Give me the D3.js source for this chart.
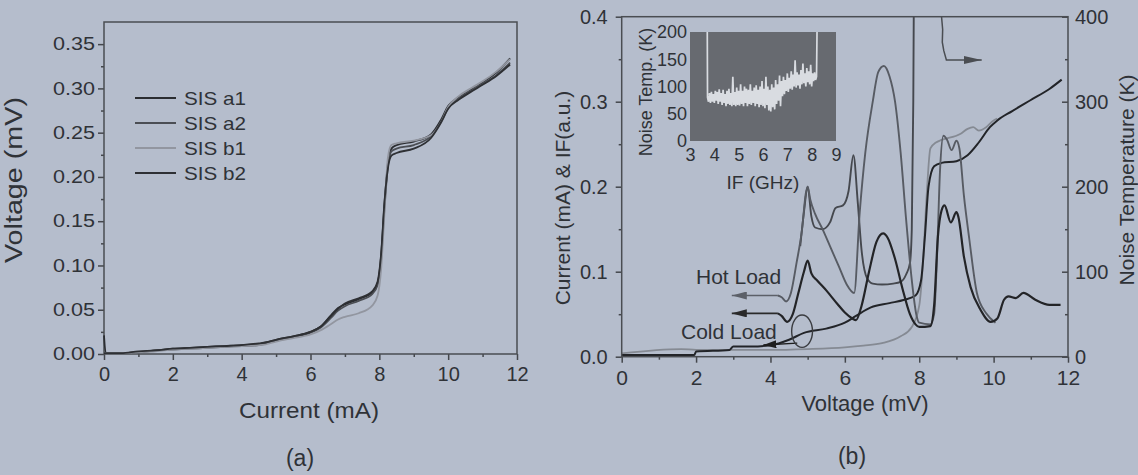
<!DOCTYPE html>
<html>
<head>
<meta charset="utf-8">
<script src="https://cdn.jsdelivr.net/npm/d3@7"></script>
<style>
  body { margin: 0; background: #b5bdcc; }
  svg { display: block; }
  text { font-family: "Liberation Sans", Arial, Helvetica, sans-serif; fill: #2f3237; }
</style>
</head>
<body>
<svg id="fig" width="1138" height="475"></svg>
<script>
// ---------- panel (a): I-V curves of four junctions ----------
var ivCurrent = [0, 0.05, 0.5, 1.0, 1.5, 2.0, 2.5, 3.0, 3.5, 4.0, 4.5, 4.7, 5.0, 5.5, 6.0, 6.3, 6.6, 6.8, 7.0, 7.4, 7.8, 7.95, 8.05, 8.15, 8.25, 8.35, 8.5, 9.0, 9.5, 9.8, 10.0, 10.3, 10.7, 11.0, 11.4, 11.8]
var sisA1 = [0.021, 0.001, 0.001, 0.002, 0.004, 0.006, 0.007, 0.008, 0.009, 0.010, 0.011, 0.013, 0.016, 0.020, 0.025, 0.031, 0.044, 0.052, 0.056, 0.062, 0.070, 0.080, 0.110, 0.170, 0.215, 0.232, 0.236, 0.240, 0.248, 0.265, 0.280, 0.290, 0.300, 0.307, 0.318, 0.334]
var sisA2 = [0.001, 0.001, 0.001, 0.002, 0.004, 0.005, 0.006, 0.007, 0.008, 0.009, 0.010, 0.012, 0.015, 0.019, 0.024, 0.030, 0.041, 0.049, 0.054, 0.060, 0.068, 0.078, 0.105, 0.165, 0.212, 0.229, 0.232, 0.236, 0.246, 0.263, 0.278, 0.288, 0.298, 0.305, 0.315, 0.329]
var sisB1 = [0.001, 0.001, 0.001, 0.002, 0.003, 0.005, 0.006, 0.007, 0.008, 0.009, 0.010, 0.011, 0.014, 0.018, 0.022, 0.027, 0.034, 0.039, 0.042, 0.046, 0.055, 0.066, 0.095, 0.160, 0.222, 0.236, 0.238, 0.241, 0.247, 0.262, 0.279, 0.291, 0.301, 0.308, 0.319, 0.333]
var sisB2 = [0.001, 0.001, 0.001, 0.003, 0.004, 0.006, 0.007, 0.008, 0.009, 0.010, 0.012, 0.013, 0.016, 0.020, 0.025, 0.031, 0.043, 0.051, 0.057, 0.063, 0.071, 0.082, 0.112, 0.172, 0.210, 0.224, 0.227, 0.232, 0.244, 0.262, 0.277, 0.287, 0.297, 0.304, 0.314, 0.327]
var legendNames = ['SIS a1', 'SIS a2', 'SIS b1', 'SIS b2']

var xTicksA = [0, 2, 4, 6, 8, 10, 12]
var xMinorA = [1, 3, 5, 7, 9, 11]
var yTicksA = [0, 0.05, 0.10, 0.15, 0.20, 0.25, 0.30, 0.35]
var yMinorA = [0.025, 0.075, 0.125, 0.175, 0.225, 0.275, 0.325]

// ---------- panel (b): pumped / unpumped I-V, IF power, noise temperature ----------
var pumpV = [0, 1.95, 2.0, 2.9, 3.0, 3.5, 4.0, 4.5, 4.9, 5.5, 6.0, 6.3, 6.7, 7.2, 7.6, 7.9, 8.05, 8.15, 8.25, 8.4, 8.6, 9.0, 9.3, 9.6, 9.9, 10.1, 10.5, 11.0, 11.5, 11.83]
var pumpI = [0.002, 0.002, 0.006, 0.008, 0.012, 0.012, 0.0135, 0.02, 0.028, 0.033, 0.040, 0.048, 0.058, 0.063, 0.067, 0.072, 0.09, 0.14, 0.2, 0.224, 0.228, 0.230, 0.237, 0.252, 0.270, 0.278, 0.289, 0.302, 0.315, 0.326]
var dryV = [0, 1.6, 2.0, 3.0, 4.0, 5.0, 6.0, 6.5, 7.0, 7.5, 7.8, 8.0, 8.1, 8.2, 8.3, 8.45, 8.6, 9.1, 9.3, 9.45, 9.6, 9.8, 10.0, 10.1]
var dryI = [0.004, 0.009, 0.008, 0.008, 0.008, 0.009, 0.011, 0.013, 0.016, 0.024, 0.035, 0.06, 0.11, 0.19, 0.245, 0.252, 0.255, 0.262, 0.268, 0.27, 0.266, 0.27, 0.278, 0.28]
var hotV = [4.2, 4.3, 4.42, 4.55, 4.7, 4.85, 4.95, 5.0, 5.07, 5.2, 5.4, 5.6, 5.85, 6.05, 6.25, 6.4, 6.55, 6.75, 6.9, 7.05, 7.2, 7.35, 7.5, 7.65, 7.8, 7.92, 8.0, 8.3, 8.4, 8.48, 8.56, 8.65, 8.75, 8.87, 9.0, 9.08, 9.2, 9.35, 9.55, 9.8, 10.05]
var hotP = [0.072, 0.070, 0.065, 0.075, 0.11, 0.15, 0.192, 0.200, 0.185, 0.168, 0.150, 0.130, 0.105, 0.085, 0.075, 0.17, 0.24, 0.30, 0.335, 0.342, 0.33, 0.30, 0.24, 0.16, 0.09, 0.05, 0.04, 0.038, 0.05, 0.12, 0.22, 0.26, 0.255, 0.243, 0.254, 0.245, 0.19, 0.137, 0.075, 0.051, 0.04]
var coldV = [4.2, 4.3, 4.45, 4.6, 4.75, 4.9, 5.0, 5.1, 5.25, 5.5, 5.8, 6.0, 6.2, 6.3, 6.45, 6.65, 6.85, 7.03, 7.15, 7.35, 7.55, 7.75, 7.9, 8.0, 8.3, 8.4, 8.5, 8.6, 8.68, 8.85, 9.0, 9.05, 9.2, 9.38, 9.65, 9.92, 10.1, 10.28, 10.4, 10.6, 10.8, 11.12, 11.5, 11.8]
var coldP = [0.051, 0.048, 0.041, 0.05, 0.075, 0.1, 0.113, 0.098, 0.09, 0.078, 0.062, 0.052, 0.045, 0.043, 0.06, 0.1, 0.135, 0.145, 0.14, 0.115, 0.08, 0.05, 0.038, 0.035, 0.036, 0.06, 0.14, 0.172, 0.178, 0.158, 0.17, 0.165, 0.118, 0.082, 0.055, 0.041, 0.045, 0.067, 0.071, 0.069, 0.075, 0.067, 0.061, 0.061]
var noiseV = [4.8, 4.9, 5.0, 5.1, 5.2, 5.4, 5.6, 5.75, 5.95, 6.1, 6.23, 6.35, 6.45, 6.6, 6.75, 7.0, 7.3, 7.5, 7.65, 7.75, 7.8, 7.84, 7.86]
var noiseT = [130, 170, 200, 165, 152, 150, 158, 175, 178, 195, 237, 180, 125, 92, 86, 85, 86, 88, 97, 110, 150, 300, 460]

var xTicksB = [0, 2, 4, 6, 8, 10, 12]
var xMinorB = [1, 3, 5, 7, 9, 11]
var yTicksB = [0, 0.1, 0.2, 0.3, 0.4]
var yMinorB = [0.05, 0.15, 0.25, 0.35]
var tTicksB = [0, 100, 200, 300, 400]
var tMinorB = [50, 150, 250, 350]

// annotation arrows and ellipse, in data units of panel (b)
var hotArrowV = [4.2, 2.96], hotArrowP = [0.072, 0.072]
var coldArrowV = [4.2, 2.96], coldArrowP = [0.051, 0.051]
var ivArrowV = [4.72, 3.81], ivArrowP = [0.016, 0.0137]
var tArrowV = [8.6, 8.63, 8.62, 8.66, 8.73, 9.68], tArrowT = [400, 385, 370, 360, 349, 349]
var ivEllipse = {v: 4.85, i: 0.030, rv: 0.28, ri: 0.019}

// ---------- inset: noise temperature vs IF ----------
var ifGHz = [3.71, 3.72, 3.76, 3.80, 3.84, 3.88, 3.92, 3.96, 4.00, 4.04, 4.08, 4.12, 4.16, 4.20, 4.24, 4.28, 4.32, 4.36, 4.40, 4.44, 4.48, 4.52, 4.56, 4.60, 4.64, 4.68, 4.72, 4.76, 4.80, 4.84, 4.88, 4.92, 4.96, 5.00, 5.04, 5.08, 5.12, 5.16, 5.20, 5.24, 5.28, 5.32, 5.36, 5.40, 5.44, 5.48, 5.52, 5.56, 5.60, 5.64, 5.68, 5.72, 5.76, 5.80, 5.84, 5.88, 5.92, 5.96, 6.00, 6.04, 6.08, 6.12, 6.16, 6.20, 6.24, 6.28, 6.32, 6.36, 6.40, 6.44, 6.48, 6.52, 6.56, 6.60, 6.64, 6.68, 6.72, 6.76, 6.80, 6.84, 6.88, 6.92, 6.96, 7.00, 7.04, 7.08, 7.12, 7.16, 7.20, 7.24, 7.28, 7.32, 7.36, 7.40, 7.44, 7.48, 7.52, 7.56, 7.60, 7.64, 7.68, 7.72, 7.76, 7.80, 7.84, 7.88, 7.92, 7.96, 8.00, 8.04, 8.08, 8.12, 8.16, 8.20, 8.22]
var ifNoise = [200, 80, 72, 88, 70, 90, 72, 86, 70, 92, 74, 90, 68, 95, 72, 88, 66, 94, 70, 86, 64, 92, 68, 96, 66, 88, 64, 118, 66, 90, 64, 98, 66, 92, 65, 104, 68, 92, 64, 100, 70, 96, 64, 94, 68, 104, 66, 92, 70, 98, 64, 102, 68, 94, 62, 100, 66, 110, 64, 96, 60, 118, 66, 100, 56, 94, 54, 104, 62, 98, 58, 112, 68, 104, 74, 120, 64, 110, 82, 118, 86, 112, 92, 124, 90, 116, 96, 128, 94, 122, 100, 148, 98, 126, 102, 122, 96, 130, 104, 142, 106, 124, 100, 134, 108, 128, 104, 140, 100, 124, 110, 126, 112, 118, 200]
var xTicksI = [3, 4, 5, 6, 7, 8, 9]
var yTicksI = [0, 50, 100, 150, 200]

function zip(xs, ys) { return xs.map(function(x, i){ return [x, ys[i]] }) }

var svg = d3.select('#fig')
var ink = '#2f3237'

var defs = svg.append('defs')
function marker(id, color, len, half) {
  defs.append('marker').attr('id', id)
    .attr('markerUnits', 'userSpaceOnUse')
    .attr('markerWidth', len).attr('markerHeight', half * 2)
    .attr('refX', len).attr('refY', half)
    .attr('orient', 'auto')
    .append('path').attr('d', 'M0,0 L' + len + ',' + half + ' L0,' + (half * 2) + ' Z').attr('fill', color)
}
marker('arrHot', '#5c6068', 15, 4)
marker('arrCold', '#2a2a2a', 15, 4)
marker('arrIV', '#1e1e1e', 13, 4)
marker('arrT', '#4a4d52', 18, 4)

function styleAxis(g, size) {
  g.select('.domain').remove()
  g.attr('font-family', null).attr('font-size', null)
  g.selectAll('line').attr('stroke', '#44474c').attr('stroke-width', 1.5)
  g.selectAll('text').attr('fill', ink).style('font-size', size + 'px')
}

// =============== panel (a) ===============
var xA = d3.scaleLinear().domain([0, 12]).range([104, 517])
var yA = d3.scaleLinear().domain([0, 0.375]).range([354, 22])

var gA = svg.append('g')

gA.append('g').attr('transform', 'translate(0,354)')
  .call(d3.axisBottom(xA).tickValues(xTicksA).tickFormat(d3.format('d')).tickSize(6).tickPadding(7))
  .call(styleAxis, 20)
gA.append('g').attr('transform', 'translate(0,354)')
  .call(d3.axisBottom(xA).tickValues(xMinorA).tickFormat('').tickSize(3))
  .call(styleAxis, 10)
gA.append('g').attr('transform', 'translate(104,0)')
  .call(d3.axisLeft(yA).tickValues(yTicksA).tickFormat(d3.format('.2f')).tickSize(6).tickPadding(3))
  .call(styleAxis, 18)
  .selectAll('text').attr('textLength', 42).attr('lengthAdjust', 'spacingAndGlyphs')
gA.append('g').attr('transform', 'translate(104,0)')
  .call(d3.axisLeft(yA).tickValues(yMinorA).tickFormat('').tickSize(3))
  .call(styleAxis, 10)

gA.append('rect').attr('x', xA(0)).attr('y', yA(0.375))
  .attr('width', xA(12) - xA(0)).attr('height', yA(0) - yA(0.375))
  .attr('fill', 'none').attr('stroke', '#4a4d52').attr('stroke-width', 1.5)

var lineA = d3.line().x(function(d){ return xA(d[0]) }).y(function(d){ return yA(d[1]) }).curve(d3.curveMonotoneX)
var seriesA = [
  {name: legendNames[0], vals: sisA1, color: '#2b2d31', w: 1.8},
  {name: legendNames[1], vals: sisA2, color: '#4b4e54', w: 1.8},
  {name: legendNames[2], vals: sisB1, color: '#9296a0', w: 1.8},
  {name: legendNames[3], vals: sisB2, color: '#2e3034', w: 1.8}
]
seriesA.forEach(function(s){
  gA.append('path').attr('d', lineA(zip(ivCurrent, s.vals)))
    .attr('fill', 'none').attr('stroke', s.color).attr('stroke-width', s.w)
})

var leg = gA.append('g')
seriesA.forEach(function(s, i){
  var y = 98 + i * 25
  leg.append('line').attr('x1', 135).attr('x2', 176).attr('y1', y).attr('y2', y)
    .attr('stroke', s.color).attr('stroke-width', 2.2)
  leg.append('text').attr('x', 184).attr('y', y + 7).text(s.name)
    .style('font-size', '19px').attr('textLength', 62).attr('lengthAdjust', 'spacingAndGlyphs')
})

gA.append('text').attr('x', 309).attr('y', 418).attr('text-anchor', 'middle')
  .style('font-size', '22px').attr('textLength', 140).attr('lengthAdjust', 'spacingAndGlyphs')
  .text('Current (mA)')
gA.append('text').attr('transform', 'translate(22,180) rotate(-90)').attr('text-anchor', 'middle')
  .style('font-size', '23px').attr('textLength', 166).attr('lengthAdjust', 'spacingAndGlyphs')
  .text('Voltage (mV)')
gA.append('text').attr('x', 300).attr('y', 466).attr('text-anchor', 'middle')
  .style('font-size', '23px').text('(a)')

// =============== panel (b) ===============
var xB = d3.scaleLinear().domain([0, 12]).range([621.7, 1068])
var yB = d3.scaleLinear().domain([0, 0.4]).range([356.7, 16.7])
var tB = d3.scaleLinear().domain([0, 400]).range([356.7, 16.7])

var gB = svg.append('g')

gB.append('g').attr('transform', 'translate(0,356.7)')
  .call(d3.axisBottom(xB).tickValues(xTicksB).tickFormat(d3.format('d')).tickSize(6).tickPadding(7))
  .call(styleAxis, 21)
gB.append('g').attr('transform', 'translate(0,356.7)')
  .call(d3.axisBottom(xB).tickValues(xMinorB).tickFormat('').tickSize(3))
  .call(styleAxis, 10)
gB.append('g').attr('transform', 'translate(621.7,0)')
  .call(d3.axisLeft(yB).tickValues(yTicksB).tickFormat(d3.format('.1f')).tickSize(6).tickPadding(8))
  .call(styleAxis, 20)
gB.append('g').attr('transform', 'translate(621.7,0)')
  .call(d3.axisLeft(yB).tickValues(yMinorB).tickFormat('').tickSize(3))
  .call(styleAxis, 10)
gB.append('g').attr('transform', 'translate(1068,0)')
  .call(d3.axisRight(tB).tickValues(tTicksB).tickFormat(d3.format('d')).tickSize(-6).tickPadding(7))
  .call(styleAxis, 20)
gB.append('g').attr('transform', 'translate(1068,0)')
  .call(d3.axisRight(tB).tickValues(tMinorB).tickFormat('').tickSize(-3))
  .call(styleAxis, 10)

gB.append('clipPath').attr('id', 'clipB').append('rect')
  .attr('x', xB(0)).attr('y', yB(0.4)).attr('width', xB(12) - xB(0)).attr('height', yB(0) - yB(0.4))

var plotB = gB.append('g').attr('clip-path', 'url(#clipB)')
var lineB = d3.line().x(function(d){ return xB(d[0]) }).y(function(d){ return yB(d[1]) }).curve(d3.curveMonotoneX)
var lineT = d3.line().x(function(d){ return xB(d[0]) }).y(function(d){ return tB(d[1]) }).curve(d3.curveMonotoneX)

plotB.append('path').attr('d', lineB(zip(dryV, dryI)))
  .attr('fill', 'none').attr('stroke', '#858a93').attr('stroke-width', 1.8)
plotB.append('path').attr('d', lineB(zip(pumpV, pumpI)))
  .attr('fill', 'none').attr('stroke', '#222428').attr('stroke-width', 2)
plotB.append('path').attr('d', lineT(zip(noiseV, noiseT)))
  .attr('fill', 'none').attr('stroke', '#45484e').attr('stroke-width', 1.9)
plotB.append('path').attr('d', lineB(zip(hotV, hotP)))
  .attr('fill', 'none').attr('stroke', '#575b63').attr('stroke-width', 1.9)
plotB.append('path').attr('d', lineB(zip(coldV, coldP)))
  .attr('fill', 'none').attr('stroke', '#232427').attr('stroke-width', 2.2)

// annotations
var lin = d3.line().x(function(d){ return xB(d[0]) }).y(function(d){ return yB(d[1]) })
var linT = d3.line().x(function(d){ return xB(d[0]) }).y(function(d){ return tB(d[1]) })
gB.append('path').attr('d', lin(zip(hotArrowV, hotArrowP)))
  .attr('fill', 'none').attr('stroke', '#5c6068').attr('stroke-width', 1.6).attr('marker-end', 'url(#arrHot)')
gB.append('path').attr('d', lin(zip(coldArrowV, coldArrowP)))
  .attr('fill', 'none').attr('stroke', '#2a2a2a').attr('stroke-width', 1.6).attr('marker-end', 'url(#arrCold)')
gB.append('path').attr('d', lin(zip(ivArrowV, ivArrowP)))
  .attr('fill', 'none').attr('stroke', '#1e1e1e').attr('stroke-width', 1.4).attr('marker-end', 'url(#arrIV)')
gB.append('path').attr('d', linT(zip(tArrowV, tArrowT)))
  .attr('fill', 'none').attr('stroke', '#4a4d52').attr('stroke-width', 1.5).attr('marker-end', 'url(#arrT)')
gB.append('ellipse')
  .attr('cx', xB(ivEllipse.v)).attr('cy', yB(ivEllipse.i))
  .attr('rx', xB(ivEllipse.rv) - xB(0)).attr('ry', yB(0) - yB(ivEllipse.ri))
  .attr('fill', 'none').attr('stroke', '#3a3c40').attr('stroke-width', 1.4)

gB.append('text').attr('x', 696).attr('y', 284).style('font-size', '21px').text('Hot Load')
gB.append('text').attr('x', 681).attr('y', 339).style('font-size', '21px').text('Cold Load')

gB.append('rect').attr('x', xB(0)).attr('y', yB(0.4))
  .attr('width', xB(12) - xB(0)).attr('height', yB(0) - yB(0.4))
  .attr('fill', 'none').attr('stroke', '#4a4d52').attr('stroke-width', 1.5)

gB.append('text').attr('x', 865).attr('y', 411).attr('text-anchor', 'middle')
  .style('font-size', '22px').text('Voltage (mV)')
gB.append('text').attr('transform', 'translate(570,198) rotate(-90)').attr('text-anchor', 'middle')
  .style('font-size', '21px').text('Current (mA) & IF(a.u.)')
gB.append('text').attr('transform', 'translate(1134,180) rotate(-90)').attr('text-anchor', 'middle')
  .style('font-size', '21px').text('Noise Temperature (K)')
gB.append('text').attr('x', 852).attr('y', 464).attr('text-anchor', 'middle')
  .style('font-size', '23px').text('(b)')

// =============== inset ===============
var xI = d3.scaleLinear().domain([3, 9]).range([690, 836])
var yI = d3.scaleLinear().domain([0, 200]).range([141, 32])
var gI = svg.append('g')

gI.append('rect').attr('x', xI(3)).attr('y', yI(200))
  .attr('width', xI(9) - xI(3)).attr('height', yI(0) - yI(200))
  .attr('fill', '#676a70')
gI.append('clipPath').attr('id', 'clipI').append('rect')
  .attr('x', xI(3)).attr('y', yI(200)).attr('width', xI(9) - xI(3)).attr('height', yI(0) - yI(200))
gI.append('path').attr('clip-path', 'url(#clipI)')
  .attr('d', d3.line().x(function(d){ return xI(d[0]) }).y(function(d){ return yI(d[1]) })(zip(ifGHz, ifNoise)))
  .attr('fill', 'none').attr('stroke', '#d9dce1').attr('stroke-width', 1.7)

gI.append('g').attr('transform', 'translate(0,141)')
  .call(d3.axisBottom(xI).tickValues(xTicksI).tickFormat(d3.format('d')).tickSize(0).tickPadding(7))
  .call(styleAxis, 18)
gI.append('g').attr('transform', 'translate(690,0)')
  .call(d3.axisLeft(yI).tickValues(yTicksI).tickFormat(d3.format('d')).tickSize(0).tickPadding(3))
  .call(styleAxis, 18)

gI.append('text').attr('x', 763).attr('y', 189).attr('text-anchor', 'middle')
  .style('font-size', '19px').text('IF (GHz)')
gI.append('text').attr('transform', 'translate(652,92) rotate(-90)').attr('text-anchor', 'middle')
  .style('font-size', '18px').text('Noise Temp. (K)')
</script>
</body>
</html>
